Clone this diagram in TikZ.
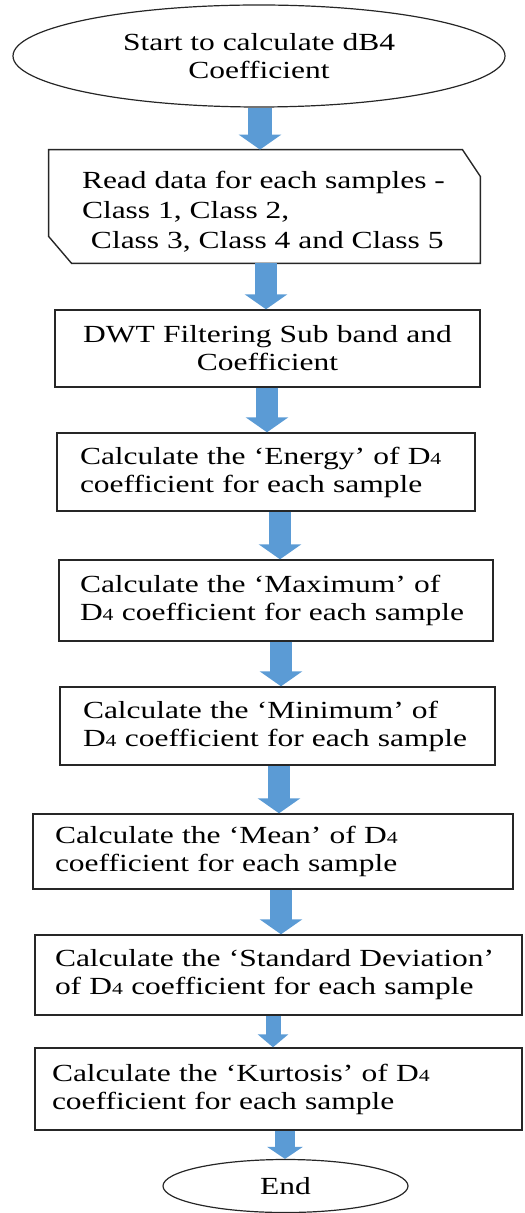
\documentclass[tikz,border=0pt]{standalone}
\usepackage{fontspec}
\setmainfont{Liberation Serif}[FakeStretch=1.28]
\usetikzlibrary{arrows.meta,calc,shapes.geometric}
\definecolor{flowblue}{RGB}{91,155,213}
\newcommand\Dfour{D{\fontsize{8.5}{9}\selectfont 4}}

\begin{document}
\begin{tikzpicture}[x=0.5pt,y=-0.5pt,
  font=\fontsize{12.3}{14}\selectfont,
  outline/.style={draw=black!85,line width=0.7pt},
  oval/.style={ellipse,outline,line width=0.6pt,inner sep=0pt,align=center},
  stage/.style={rectangle,outline,inner ysep=0pt,align=left},
  blockflow/.style={draw=flowblue,line width=11pt,-{Triangle[width=21pt,length=7.5pt]}},
]
\useasboundingbox (0,0) rectangle (524,1213);

% terminals and process steps
\node[oval,minimum width=246pt,minimum height=51pt] (start) at (259,56)
  {Start to calculate dB4\\Coefficient};

\node[minimum width=215.5pt,minimum height=56.5pt,inner sep=0pt] (read) at (264.5,206.5) {};
\draw[outline] (read.north west) -- ($(read.north east)+(-18,0)$) -- ($(read.north east)+(0,27)$)
  -- (read.south east) -- ($(read.south west)+(23,0)$) -- ($(read.south west)+(0,-27)$) -- cycle;
\node[anchor=west,align=left,inner sep=0pt,font=\fontsize{12.3}{15}\selectfont] (readtext) at ($(read.west)+(33,5)$)
  {Read data for each samples -\\Class 1, Class 2,\\\hspace*{4.5pt}Class 3, Class 4 and Class 5};

\node[stage,align=center,minimum width=212.5pt,minimum height=38.5pt,text width=200pt] (dwt) at (267.5,348.5)
  {DWT Filtering Sub band and\\Coefficient};

\node[stage,minimum height=39pt,text width=186pt,inner xsep=11.5pt] (energy) at (266,472)
  {Calculate the ‘Energy’ of \Dfour\\coefficient for each sample};

\node[stage,minimum height=40.5pt,text width=196pt,inner xsep=10.5pt] (maximum) at (276,600.5)
  {Calculate the ‘Maximum’ of\\\Dfour{} coefficient for each sample};

\node[stage,minimum height=39pt,text width=194.5pt,inner xsep=11.5pt] (minimum) at (277.5,726)
  {Calculate the ‘Minimum’ of\\\Dfour{} coefficient for each sample};

\node[stage,minimum height=37.5pt,text width=218pt,inner xsep=11pt] (mean) at (273,851.5)
  {Calculate the ‘Mean’ of \Dfour\\coefficient for each sample};

\node[stage,minimum height=40pt,text width=223.5pt,inner xsep=10pt] (stdev) at (278.5,975)
  {Calculate the ‘Standard Deviation’\\of \Dfour{} coefficient for each sample};

\node[stage,minimum height=41pt,text width=226.5pt,inner xsep=8.5pt] (kurt) at (278.5,1089)
  {Calculate the ‘Kurtosis’ of \Dfour\\coefficient for each sample};

\node[oval,minimum width=122.5pt,minimum height=26.5pt] (finish) at (285.5,1186) {End};

% block arrows between the steps
\coordinate (x1) at (260,0);
\coordinate (x2) at (266,0);
\coordinate (x3) at (267,0);
\coordinate (x4) at (280,0);
\coordinate (x5) at (281,0);
\coordinate (x6) at (279,0);
\coordinate (x7) at (281,0);
\coordinate (x8) at (273,0);
\coordinate (x9) at (285,0);

\draw[blockflow,line width=12pt] (start.south -| x1) -- (read.north -| x1);
\draw[blockflow] (read.south -| x2) -- (dwt.north -| x2);
\draw[blockflow] (dwt.south -| x3) -- (energy.north -| x3);
\draw[blockflow] (energy.south -| x4) -- (maximum.north -| x4);
\draw[blockflow] (maximum.south -| x5) -- (minimum.north -| x5);
\draw[blockflow] (minimum.south -| x6) -- (mean.north -| x6);
\draw[blockflow] (mean.south -| x7) -- (stdev.north -| x7);
\draw[blockflow,line width=7.5pt,-{Triangle[width=15pt,length=6.5pt]}] (stdev.south -| x8) -- (kurt.north -| x8);
\draw[blockflow,line width=10pt,-{Triangle[width=17.5pt,length=6pt]}] (kurt.south -| x9) -- (finish.north -| x9);
\end{tikzpicture}
\end{document}
